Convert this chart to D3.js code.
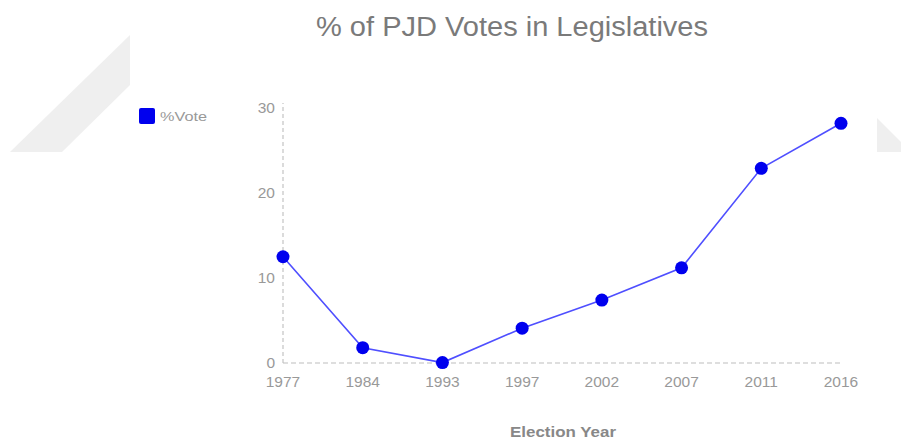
<!DOCTYPE html>
<html>
<head>
<meta charset="utf-8">
<script src="https://cdn.jsdelivr.net/npm/d3@7"></script>
<style>
  body { margin: 0; background: #fff; }
  svg { display: block; font-family: "Liberation Sans", Arial, sans-serif; }
</style>
</head>
<body>
<main></main>
<script>
const WIDTH = 901;
const HEIGHT = 439;

const years = ["1977", "1984", "1993", "1997", "2002", "2007", "2011", "2016"];
const votes = [12.5, 1.8, 0.05, 4.1, 7.4, 11.2, 22.9, 28.2];
const yTicks = [0, 10, 20, 30];
const seriesName = "%Vote";

const margin = {left: 283, right: 60, top: 108, bottom: 76};

var svg = d3.select("main").append("svg")
            .attr("width", WIDTH)
            .attr("height", HEIGHT);

// faint background decorations
svg.append("polygon")
   .attr("points", "10,152 130,35 130,85 62,152")
   .style("fill", "#efefef");
svg.append("polygon")
   .attr("points", "877,118 877,152 901,152 901,142")
   .style("fill", "#efefef");

var x = d3.scalePoint()
          .domain(years)
          .range([margin.left, WIDTH - margin.right]);

var y = d3.scaleLinear()
          .domain([0, 30])
          .range([HEIGHT - margin.bottom, margin.top]);

// title
svg.append("text")
   .attr("x", 512)
   .attr("y", 36)
   .attr("text-anchor", "middle")
   .attr("textLength", 392)
   .attr("lengthAdjust", "spacingAndGlyphs")
   .style("font-size", "27px")
   .style("fill", "#7a7a7a")
   .text("% of PJD Votes in Legislatives");

// axes (dashed)
svg.append("line")
   .attr("x1", x(years[0])).attr("x2", x(years[0]))
   .attr("y1", y(0)).attr("y2", y(30) - 5)
   .style("stroke", "#cfcfcf")
   .style("stroke-width", 1.5)
   .style("stroke-dasharray", "4,3");

svg.append("line")
   .attr("x1", x(years[0])).attr("x2", x(years[years.length - 1]) + 2)
   .attr("y1", y(0)).attr("y2", y(0))
   .style("stroke", "#bdbdbd")
   .style("stroke-width", 1.2)
   .style("stroke-dasharray", "5,3");

// y tick labels
svg.selectAll(".ytick")
   .data(yTicks)
   .enter().append("text")
   .attr("class", "ytick")
   .attr("x", margin.left - 8)
   .attr("y", d => y(d) + 5)
   .attr("text-anchor", "end")
   .style("font-size", "15.5px")
   .style("fill", "#999")
   .text(d => d);

// x tick labels
svg.selectAll(".xtick")
   .data(years)
   .enter().append("text")
   .attr("class", "xtick")
   .attr("x", d => x(d))
   .attr("y", y(0) + 24)
   .attr("text-anchor", "middle")
   .style("font-size", "15.5px")
   .style("fill", "#999")
   .text(d => d);

// x axis title
svg.append("text")
   .attr("x", 563)
   .attr("y", 437)
   .attr("text-anchor", "middle")
   .attr("textLength", 106)
   .attr("lengthAdjust", "spacingAndGlyphs")
   .style("font-size", "15px")
   .style("font-weight", "bold")
   .style("fill", "#888")
   .text("Election Year");

// line
var line = d3.line()
             .x((d, i) => x(years[i]))
             .y(d => y(d));

svg.append("path")
   .datum(votes)
   .attr("d", line)
   .style("fill", "none")
   .style("stroke", "#4f4fff")
   .style("stroke-width", 1.6);

svg.selectAll(".dot")
   .data(votes)
   .enter().append("circle")
   .attr("class", "dot")
   .attr("cx", (d, i) => x(years[i]))
   .attr("cy", d => y(d))
   .attr("r", 6.5)
   .style("fill", "#0000ee");

// legend
svg.append("rect")
   .attr("x", 139).attr("y", 108)
   .attr("width", 16).attr("height", 16)
   .attr("rx", 2)
   .style("fill", "#0000ee");
svg.append("text")
   .attr("x", 160)
   .attr("y", 121)
   .attr("textLength", 47)
   .attr("lengthAdjust", "spacingAndGlyphs")
   .style("font-size", "13px")
   .style("fill", "#999")
   .text(seriesName);
</script>
</body>
</html>
